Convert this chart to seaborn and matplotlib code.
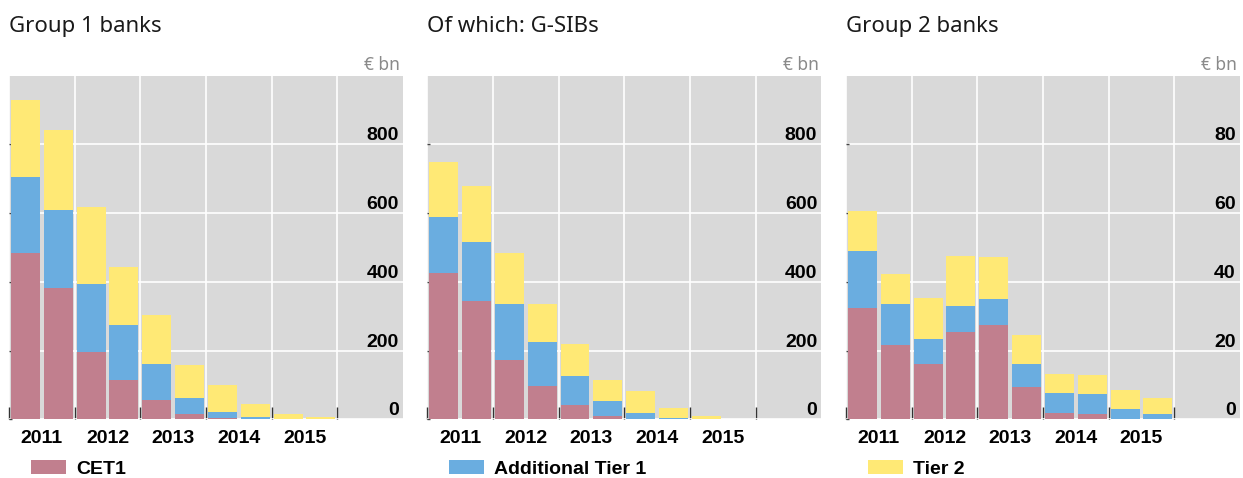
import numpy as np
import pandas as pd
import matplotlib
matplotlib.use("Agg")
import matplotlib.pyplot as plt
from matplotlib.patches import Patch
import seaborn as sns


periods = ["2011 H1", "2011 H2", "2012 H1", "2012 H2", "2013 H1",
           "2013 H2", "2014 H1", "2014 H2", "2015 H1", "2015 H2"]
slots = periods + ["2016 H1", "2016 H2"]
years = ["2011", "2012", "2013", "2014", "2015"]

titles = ["Group 1 banks", "Of which: G-SIBs", "Group 2 banks"]
series_names = ["CET1", "Additional Tier 1", "Tier 2"]
colors = ["#C17F8E", "#6AADE0", "#FFE975"]

# € bn, per half-year
g1_cet1 = [485, 383, 196, 114, 56, 14, 3, 1, 0, 0]
g1_at1 = [221, 226, 199, 159, 105, 49, 19, 5, 1, 1]
g1_t2 = [222, 232, 224, 171, 143, 95, 78, 39, 14, 6]

gsib_cet1 = [425, 343, 174, 97, 41, 11, 2, 0, 0, 0]
gsib_at1 = [164, 174, 161, 127, 85, 41, 15, 3, 0, 0]
gsib_t2 = [159, 162, 150, 113, 94, 62, 64, 29, 11, 1]

g2_cet1 = [32.3, 21.6, 16.1, 25.4, 27.5, 9.3, 1.9, 1.5, 0, 0]
g2_at1 = [16.6, 11.9, 7.2, 7.5, 7.5, 6.9, 5.7, 5.8, 2.9, 1.5]
g2_t2 = [11.6, 8.7, 12.0, 14.6, 12.3, 8.4, 5.7, 5.5, 5.6, 4.8]

panels = [(g1_cet1, g1_at1, g1_t2), (gsib_cet1, gsib_at1, gsib_t2), (g2_cet1, g2_at1, g2_t2)]
y_max = [1000, 1000, 100]
y_ticks = [[0, 200, 400, 600, 800], [0, 200, 400, 600, 800], [0, 20, 40, 60, 80]]


sns.set_theme(style="darkgrid", rc={"axes.facecolor": "#D9D9D9", "grid.color": "white",
                                    "text.color": "black"})
plt.rcParams["font.family"] = ["Liberation Sans", "DejaVu Sans"]

W, H = 1243, 478
fig = plt.figure(figsize=(W / 100, H / 100), dpi=100)
fig.patch.set_facecolor("white")

lefts = [9, 427.3, 846]
ax_w, ax_h, ax_bottom = 394, 343.6, 419.3

for i, (cet1, at1, t2) in enumerate(panels):
    ax = fig.add_axes([lefts[i] / W, 1 - ax_bottom / H, ax_w / W, ax_h / H])

    df = pd.DataFrame({"period": periods, "cet1": cet1, "at1": at1, "t2": t2})
    df["lvl2"] = df["cet1"] + df["at1"]
    df["lvl3"] = df["lvl2"] + df["t2"]

    # stacked: draw totals first, then the lower layers on top
    for col, c in zip(["lvl3", "lvl2", "cet1"], colors[::-1]):
        sns.barplot(data=df, x="period", y=col, order=slots, color=c,
                    saturation=1, width=0.88, linewidth=0, errorbar=None, ax=ax)

    ax.set_xlabel("")
    ax.set_ylabel("")
    ax.set_xlim(-0.5, len(slots) - 0.5)
    ax.set_ylim(0, y_max[i])

    # year boundaries (grid + ticks) and year labels in between
    ax.set_xticks(np.arange(-0.5, len(periods), 2))
    ax.set_xticks(np.arange(len(years)) * 2 + 0.5, labels=years, minor=True)
    ax.tick_params(axis="x", which="major", direction="in", length=9, width=1,
                   color="#333333", bottom=True, labelbottom=False)
    ax.tick_params(axis="x", which="minor", length=0, pad=8, labelsize=14,
                   labelcolor="black")
    for lab in ax.get_xticklabels(minor=True):
        lab.set_fontweight("bold")

    ax.set_yticks(y_ticks[i], labels=[str(v) for v in y_ticks[i]])
    ax.tick_params(axis="y", left=True, right=False, labelleft=False, labelright=True,
                   direction="in", length=2, width=1, color="#444444", pad=-3,
                   labelsize=14, labelcolor="black")
    for lab in ax.get_yticklabels():
        lab.set_ha("right")
        lab.set_va("bottom")
        lab.set_fontweight("bold")

    ax.grid(True, which="major", color="white", linewidth=1.2)
    ax.set_axisbelow(True)
    for s in ax.spines.values():
        s.set_visible(False)

    fig.text(lefts[i] / W, 1 - 32.3 / H, titles[i], fontsize=16, va="baseline",
             color="#1a1a1a", family=["Noto Sans", "DejaVu Sans"])
    ax.text(1 - 2.7 / ax_w, 1 + 5.7 / ax_h, "€ bn", transform=ax.transAxes,
            ha="right", va="baseline", fontsize=12.5, color="#8a8a8a",
            family=["Noto Sans", "DejaVu Sans"])

    leg = ax.legend(handles=[Patch(facecolor=colors[i], edgecolor="none", label=series_names[i])],
                    loc="center left", bbox_to_anchor=(21.7 / ax_w, -49.7 / ax_h),
                    frameon=False, borderpad=0, borderaxespad=0,
                    handlelength=1.8, handleheight=0.75, handletextpad=0.53,
                    prop={"weight": "bold", "size": 14})
    for t in leg.get_texts():
        t.set_color("black")

fig.savefig("out.png", dpi=100)
